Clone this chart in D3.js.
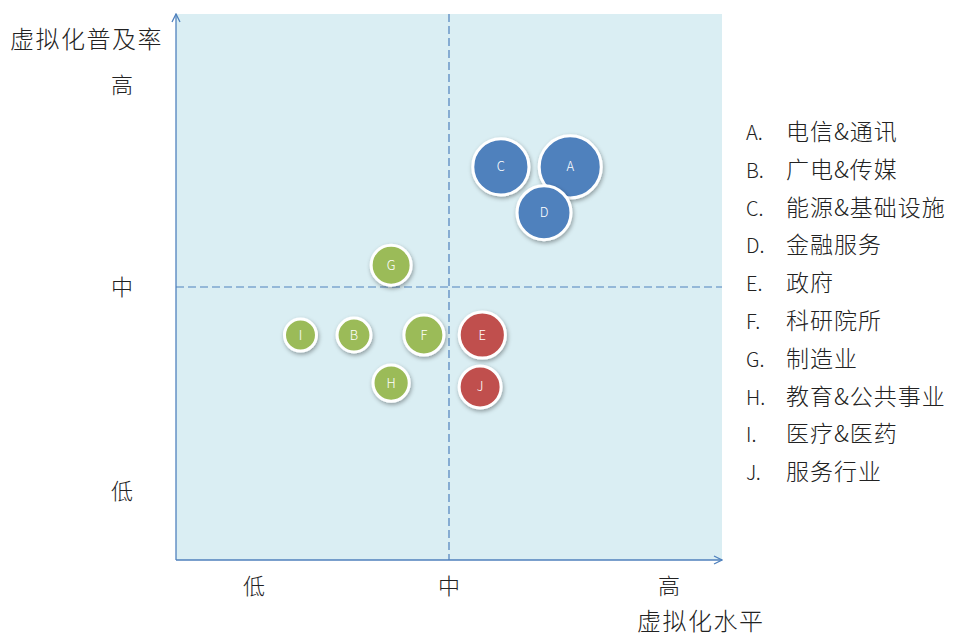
<!DOCTYPE html>
<html>
<head>
<meta charset="utf-8">
<script src="https://cdn.jsdelivr.net/npm/d3@7"></script>
<style>
body { margin: 0; background: #fff; }
text { font-family: "Noto Sans CJK SC", "Open Sans", sans-serif; font-weight: 300; }
</style>
</head>
<body>
<svg width="954" height="637"></svg>
<script>
// bubble data
var codes = ["A", "B", "C", "D", "E", "F", "G", "H", "I", "J"];
var names = ["电信&通讯", "广电&传媒", "能源&基础设施", "金融服务", "政府",
             "科研院所", "制造业", "教育&公共事业", "医疗&医药", "服务行业"];
var xVals = [0.722, 0.326, 0.595, 0.674, 0.561, 0.454, 0.394, 0.394, 0.228, 0.557];
var yVals = [0.720, 0.412, 0.720, 0.636, 0.412, 0.412, 0.540, 0.324, 0.412, 0.317];
var sizes = [94, 28, 77, 71, 52, 39, 39, 32, 25, 43];
var groups = ["blue", "green", "blue", "blue", "red", "green", "green", "green", "green", "red"];

var xTicks = [0.143, 0.5, 0.903];
var yTicks = [0.126, 0.5, 0.87];
var tickLabels = ["低", "中", "高"];

var svg = d3.select("svg");

var x = d3.scaleLinear().domain([0, 1]).range([176, 722]);
var y = d3.scaleLinear().domain([0, 1]).range([560, 14]);
var r = d3.scaleSqrt().domain([0, 100]).range([0, 32]);
var color = d3.scaleOrdinal()
    .domain(["blue", "green", "red"])
    .range(["#4f81bd", "#9bbb59", "#c0504d"]);

var defs = svg.append("defs");
var shadow = defs.append("filter").attr("id", "shadow")
    .attr("x", "-30%").attr("y", "-30%").attr("width", "160%").attr("height", "160%");
shadow.append("feDropShadow")
    .attr("dx", 1).attr("dy", 2).attr("stdDeviation", 2)
    .attr("flood-color", "#000").attr("flood-opacity", 0.35);

defs.append("marker").attr("id", "arrow")
    .attr("viewBox", "0 0 10 10").attr("refX", 9).attr("refY", 5)
    .attr("markerWidth", 10).attr("markerHeight", 10)
    .attr("markerUnits", "userSpaceOnUse")
    .attr("orient", "auto")
  .append("path")
    .attr("d", "M1,1 L9,5 L1,9")
    .attr("fill", "none").attr("stroke", "#4f81bd").attr("stroke-width", 1.3);

// plot background
svg.append("rect")
    .attr("x", x(0)).attr("y", y(1))
    .attr("width", x(1) - x(0)).attr("height", y(0) - y(1))
    .attr("fill", "#daeef3");

// dashed centre lines
svg.append("line")
    .attr("x1", x(0.5)).attr("x2", x(0.5)).attr("y1", y(1)).attr("y2", y(0))
    .attr("stroke", "#4f81bd").attr("stroke-width", 1.2).attr("stroke-dasharray", "8,4");
svg.append("line")
    .attr("x1", x(0)).attr("x2", x(1)).attr("y1", y(0.5)).attr("y2", y(0.5))
    .attr("stroke", "#4f81bd").attr("stroke-width", 1.2).attr("stroke-dasharray", "8,4");

// axes with arrows
svg.append("line")
    .attr("x1", x(0)).attr("x2", x(0)).attr("y1", y(0)).attr("y2", y(1))
    .attr("stroke", "#4f81bd").attr("stroke-width", 1.3).attr("marker-end", "url(#arrow)");
svg.append("line")
    .attr("x1", x(0)).attr("x2", x(1)).attr("y1", y(0)).attr("y2", y(0))
    .attr("stroke", "#4f81bd").attr("stroke-width", 1.3).attr("marker-end", "url(#arrow)");

// tick labels
svg.selectAll(".xt").data(xTicks).enter().append("text")
    .attr("x", function(d) { return x(d); })
    .attr("y", 594)
    .attr("text-anchor", "middle")
    .attr("font-size", 22).attr("fill", "#222")
    .text(function(d, i) { return tickLabels[i]; });

svg.selectAll(".yt").data(yTicks).enter().append("text")
    .attr("x", 122)
    .attr("y", function(d) { return y(d) + 8; })
    .attr("text-anchor", "middle")
    .attr("font-size", 22).attr("fill", "#222")
    .text(function(d, i) { return tickLabels[i]; });

// axis titles
svg.append("text")
    .attr("x", 10).attr("y", 48)
    .attr("font-size", 24).attr("letter-spacing", 1.5).attr("fill", "#222")
    .text("虚拟化普及率");
svg.append("text")
    .attr("x", 637).attr("y", 630)
    .attr("font-size", 24).attr("letter-spacing", 1.5).attr("fill", "#222")
    .text("虚拟化水平");

// bubbles
var bubble = svg.selectAll(".bubble")
    .data(codes.map(function(c, i) {
      return { code: c, x: xVals[i], y: yVals[i], size: sizes[i], group: groups[i] };
    }))
  .enter().append("g")
    .attr("class", "bubble")
    .attr("transform", function(d) { return "translate(" + x(d.x) + "," + y(d.y) + ")"; });

bubble.append("circle")
    .attr("r", function(d) { return r(d.size); })
    .attr("fill", function(d) { return color(d.group); })
    .attr("stroke", "#fff").attr("stroke-width", 3)
    .attr("filter", "url(#shadow)");

bubble.append("text")
    .attr("text-anchor", "middle")
    .attr("dy", "0.35em")
    .attr("font-family", "'Open Sans', sans-serif")
    .attr("font-size", 13).attr("fill", "#fff")
    .text(function(d) { return d.code; });

// legend
var legend = svg.selectAll(".legend")
    .data(codes)
  .enter().append("g")
    .attr("class", "legend")
    .attr("transform", function(d, i) { return "translate(746," + (140 + i * 37.8) + ")"; });

legend.append("text")
    .attr("font-family", "'Open Sans', sans-serif")
    .attr("font-size", 20).attr("fill", "#222")
    .text(function(d) { return d + "."; });

legend.append("text")
    .attr("x", 40)
    .attr("font-size", 23).attr("letter-spacing", 1).attr("fill", "#222")
    .text(function(d, i) { return names[i]; });
</script>
</body>
</html>
